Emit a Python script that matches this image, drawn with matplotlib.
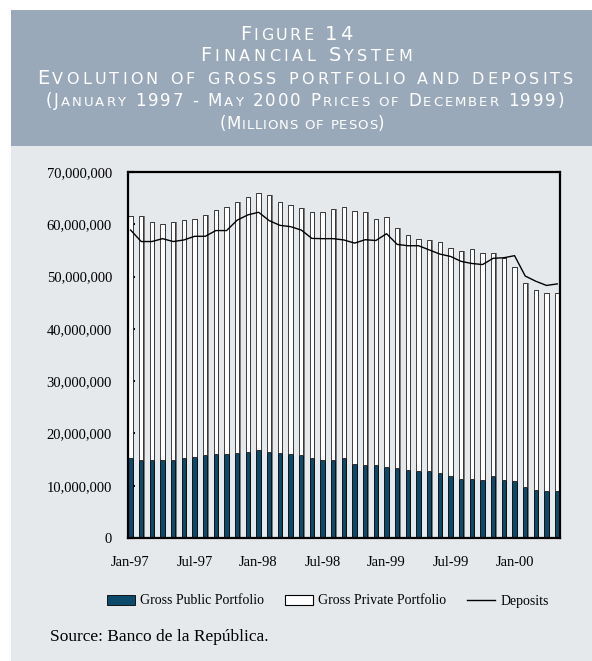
import numpy as np
import matplotlib
matplotlib.use("Agg")
import matplotlib.pyplot as plt
from matplotlib.patches import Rectangle, Patch
from matplotlib.lines import Line2D
from matplotlib.ticker import FuncFormatter

W, H = 592, 661

# Monthly series, Jan-97 .. May-00 (millions of pesos)
months = ["Jan-97", "Feb-97", "Mar-97", "Apr-97", "May-97", "Jun-97", "Jul-97", "Aug-97",
          "Sep-97", "Oct-97", "Nov-97", "Dec-97", "Jan-98", "Feb-98", "Mar-98", "Apr-98",
          "May-98", "Jun-98", "Jul-98", "Aug-98", "Sep-98", "Oct-98", "Nov-98", "Dec-98",
          "Jan-99", "Feb-99", "Mar-99", "Apr-99", "May-99", "Jun-99", "Jul-99", "Aug-99",
          "Sep-99", "Oct-99", "Nov-99", "Dec-99", "Jan-00", "Feb-00", "Mar-00", "Apr-00",
          "May-00"]

total_portfolio = [61.6, 61.6, 60.4, 60.1, 60.4, 60.8, 61.1, 61.8, 62.7, 63.4, 64.3,
                   65.2, 65.9, 65.6, 64.3, 63.7, 63.2, 62.4, 62.4, 62.95, 63.4, 62.6,
                   62.4, 61.1, 61.3, 59.3, 58.0, 57.25, 56.9, 56.6, 55.4, 54.8, 55.2,
                   54.55, 54.55, 53.6, 51.9, 48.8, 47.4, 46.9, 46.9]

public_portfolio = [15.3, 15.0, 15.0, 15.0, 15.0, 15.3, 15.5, 15.8, 16.1, 16.1, 16.35,
                    16.5, 16.8, 16.5, 16.3, 16.15, 15.8, 15.3, 15.0, 15.0, 15.25, 14.2,
                    13.9, 13.9, 13.65, 13.4, 12.95, 12.8, 12.8, 12.4, 11.85, 11.35, 11.35,
                    11.1, 11.85, 11.1, 10.85, 9.7, 9.2, 9.0, 9.0]

deposits = [58.9, 56.7, 56.7, 57.25, 56.7, 57.0, 57.7, 57.7, 58.8, 58.8, 60.8, 61.8,
            62.3, 60.7, 59.8, 59.55, 58.9, 57.3, 57.25, 57.25, 57.0, 56.4, 57.05, 56.9,
            58.2, 56.15, 55.9, 55.9, 55.1, 54.3, 53.85, 52.9, 52.5, 52.3, 53.5, 53.6,
            54.0, 50.1, 49.1, 48.3, 48.6]

tick_labels = ["Jan-97", "Jul-97", "Jan-98", "Jul-98", "Jan-99", "Jul-99", "Jan-00"]

header_lines = ["Figure 14",
                "Financial System",
                "Evolution of gross portfolio and deposits",
                "(January 1997 - May 2000 Prices of December 1999)",
                "(Millions of pesos)"]

HEADER_BG = "#9aa9ba"
PANEL_BG = "#e6e9ec"
DARK = "#0b4a6b"
SERIF = "Liberation Serif"
HEAD_FONT = "DejaVu Sans"

public = np.array(public_portfolio) * 1e6
private = (np.array(total_portfolio) - np.array(public_portfolio)) * 1e6
dep = np.array(deposits) * 1e6
x = np.arange(len(months))


def fx(px):
    return px / W


def fy(py):
    return 1 - py / H


fig = plt.figure(figsize=(W / 100, H / 100), dpi=100)
fig.patch.set_facecolor("white")

# background panels
fig.patches.append(Rectangle((fx(11), fy(H)), 1, fy(146) - fy(H), transform=fig.transFigure,
                             facecolor=PANEL_BG, edgecolor="none", zorder=-2))
fig.patches.append(Rectangle((fx(11), fy(146)), 1, fy(10) - fy(146), transform=fig.transFigure,
                             facecolor=HEADER_BG, edgecolor="none", zorder=-2))


def smallcaps(text, y_px, big, small, span, cx=304):
    # fake small caps (lowercase -> smaller capitals), letter-spaced to fill span px
    r = fig.canvas.get_renderer()
    objs, widths = [], []
    for ch in text:
        size = small if ch.islower() else big
        if ch == " ":
            objs.append(None)
            widths.append(big * 0.45)
            continue
        t = fig.text(0, fy(y_px), ch.upper(), fontsize=size, color="white",
                     family=HEAD_FONT, va="baseline", ha="left")
        objs.append(t)
        widths.append(t.get_window_extent(r).width)
    track = (span - sum(widths)) / (len(text) - 1)
    left = cx - span / 2
    for o, w in zip(objs, widths):
        if o is not None:
            o.set_x(fx(left))
        left += w + track


smallcaps(header_lines[0], 40, 14, 11.5, 112, cx=296)
smallcaps(header_lines[1], 61, 14, 11.5, 212, cx=306)
smallcaps(header_lines[2], 84, 14, 11.5, 536, cx=305)
smallcaps(header_lines[3], 106, 12, 9.5, 519, cx=305)
smallcaps(header_lines[4], 129, 12, 9.5, 165, cx=302)

ax = fig.add_axes([fx(128), fy(538), fx(560) - fx(128), fy(172) - fy(538)])
ax.set_facecolor(PANEL_BG)

bw = 0.42
# grey drop shadow on the right of each bar
ax.bar(x + 0.1, public + private, width=bw, align="edge", color="#7a7a7a", zorder=1)
ax.bar(x, public, width=bw, align="edge", color=DARK, edgecolor="black", linewidth=0.6, zorder=2)
ax.bar(x, private, bottom=public, width=bw, align="edge", color="white", edgecolor="#222222",
       linewidth=0.6, zorder=2)
ax.plot(x + bw / 2, dep, color="black", linewidth=1.0, zorder=3)

ax.set_xlim(-0.03, len(months) - 1 + bw + 0.05)
ax.set_ylim(0, 70e6)
ax.set_yticks(np.arange(0, 70e6 + 1, 10e6))
ax.yaxis.set_major_formatter(FuncFormatter(lambda v, p: f"{int(v):,}"))
ax.set_xticks(x[::6] + bw / 2)
ax.set_xticklabels(tick_labels)

for s in ax.spines.values():
    s.set_color("black")
    s.set_linewidth(1.6)
    s.set_zorder(4)
ax.tick_params(axis="y", direction="in", length=5, width=1.5, pad=11.5,
               labelsize=10.5, labelfontfamily=SERIF)
ax.tick_params(axis="x", direction="in", length=4, width=1.8, pad=13,
               labelsize=10.5, labelfontfamily=SERIF)

handles = [Patch(facecolor=DARK, edgecolor="black", linewidth=0.6),
           Patch(facecolor="white", edgecolor="black", linewidth=0.8),
           Line2D([], [], color="black", linewidth=1.0)]
fig.legend(handles, ["Gross Public Portfolio", "Gross Private Portfolio", "Deposits"],
           loc="center", bbox_to_anchor=(fx(328), fy(601)), ncol=3, frameon=False,
           prop={"family": SERIF, "size": 10}, handlelength=2.0, handleheight=0.7,
           handletextpad=0.4, columnspacing=1.5)

fig.text(fx(50), fy(637), "Source: Banco de la República.", family=SERIF, fontsize=12.5,
         va="center", ha="left")

fig.savefig("out.png", dpi=100, facecolor=fig.get_facecolor())
